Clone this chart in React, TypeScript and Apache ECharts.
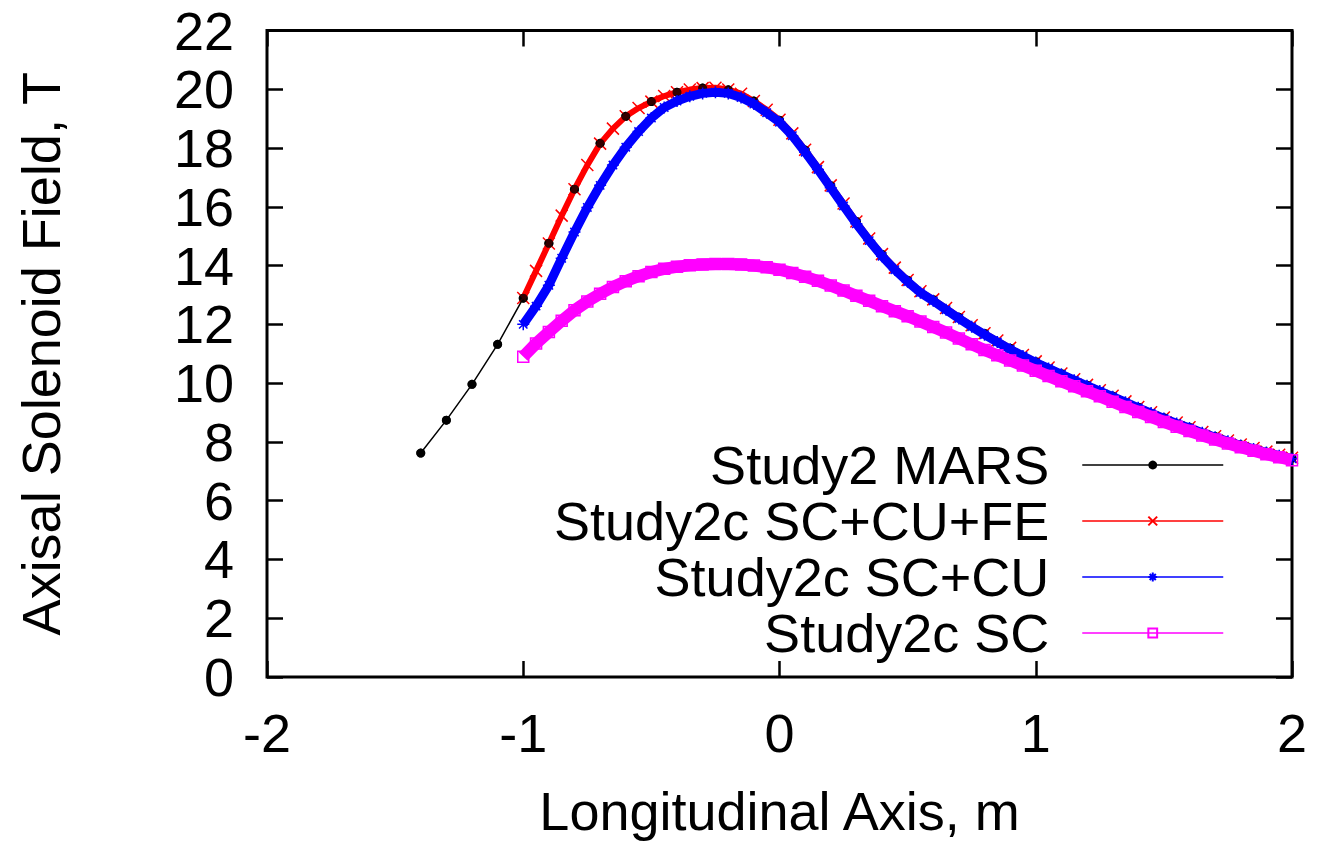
import React, { useEffect, useRef } from "react";
import * as echarts from "echarts";

const FONT = "'Liberation Sans', Arial, Helvetica, sans-serif";

const seriesNames = [
  "Study2 MARS",
  "Study2c SC+CU+FE",
  "Study2c SC+CU",
  "Study2c SC",
];

const marsX = [
  -1.4, -1.3, -1.2, -1.1, -1.0, -0.9, -0.8, -0.7, -0.6, -0.5, -0.4, -0.3, -0.2,
  -0.1, 0.0, 0.1, 0.2, 0.3, 0.4, 0.5, 0.6, 0.7, 0.8, 0.9, 1.0, 1.1, 1.2, 1.3,
  1.4, 1.5, 1.6, 1.7, 1.8, 1.9, 2.0,
];
const marsY = [
  7.62, 8.74, 9.96, 11.32, 12.89, 14.76, 16.6, 18.16, 19.08, 19.58, 19.9, 20.04,
  19.98, 19.6, 18.95, 17.93, 16.72, 15.5, 14.38, 13.5, 12.84, 12.24, 11.69,
  11.19, 10.73, 10.32, 9.93, 9.56, 9.18, 8.82, 8.49, 8.18, 7.9, 7.66, 7.45,
];

const fineX = [
  -1.0, -0.95, -0.9, -0.85, -0.8, -0.75, -0.7, -0.65, -0.6, -0.55, -0.5, -0.45,
  -0.4, -0.35, -0.3, -0.25, -0.2, -0.15, -0.1, -0.05, 0.0, 0.05, 0.1, 0.15, 0.2,
  0.25, 0.3, 0.35, 0.4, 0.45, 0.5, 0.55, 0.6, 0.65, 0.7, 0.75, 0.8, 0.85, 0.9,
  0.95, 1.0, 1.05, 1.1, 1.15, 1.2, 1.25, 1.3, 1.35, 1.4, 1.45, 1.5, 1.55, 1.6,
  1.65, 1.7, 1.75, 1.8, 1.85, 1.9, 1.95, 2.0,
];

const scCuFeY = [
  12.9, 13.82, 14.75, 15.7, 16.6, 17.42, 18.15, 18.66, 19.08, 19.36, 19.58,
  19.77, 19.9, 19.99, 20.04, 20.05, 19.99, 19.85, 19.6, 19.3, 18.96, 18.5,
  17.94, 17.35, 16.73, 16.11, 15.5, 14.92, 14.39, 13.93, 13.51, 13.13, 12.85,
  12.56, 12.25, 11.97, 11.7, 11.45, 11.2, 10.96, 10.74, 10.53, 10.33, 10.13,
  9.94, 9.76, 9.57, 9.38, 9.19, 9.01, 8.83, 8.66, 8.5, 8.34, 8.19, 8.05, 7.91,
  7.79, 7.67, 7.56, 7.46,
];

const scCuY = [
  12.0, 12.62, 13.33, 14.25, 15.14, 15.98, 16.73, 17.42, 18.03, 18.56, 19.02,
  19.38, 19.6, 19.76, 19.86, 19.9, 19.86, 19.72, 19.5, 19.2, 18.88, 18.42,
  17.86, 17.27, 16.65, 16.03, 15.42, 14.85, 14.32, 13.86, 13.45, 13.08, 12.8,
  12.5, 12.2, 11.92, 11.65, 11.4, 11.15, 10.92, 10.7, 10.5, 10.3, 10.1, 9.91,
  9.73, 9.54, 9.35, 9.16, 8.98, 8.8, 8.63, 8.47, 8.31, 8.16, 8.02, 7.88, 7.76,
  7.64, 7.53, 7.43,
];

const scY = [
  10.9, 11.35, 11.74, 12.12, 12.48, 12.78, 13.04, 13.27, 13.47, 13.64, 13.78,
  13.89, 13.96, 14.01, 14.04, 14.05, 14.05, 14.04, 14.0, 13.94, 13.86, 13.75,
  13.62, 13.48, 13.32, 13.15, 12.97, 12.8, 12.62, 12.45, 12.28, 12.1, 11.91,
  11.72, 11.52, 11.32, 11.13, 10.95, 10.77, 10.6, 10.42, 10.24, 10.06, 9.89,
  9.72, 9.55, 9.37, 9.19, 9.02, 8.85, 8.68, 8.52, 8.37, 8.22, 8.08, 7.95, 7.82,
  7.7, 7.58, 7.48, 7.38,
];

const pair = (xs: number[], ys: number[]) => xs.map((x, i) => [x, ys[i]]);

const tickStyle = { color: "#000", width: 2.5 };

export default function App() {
  const ref = useRef<HTMLDivElement>(null);

  useEffect(() => {
    if (!ref.current) return;
    const chart = echarts.init(ref.current, undefined, { renderer: "svg" });
    const labelStyle = { fontSize: 54, color: "#000", fontFamily: FONT };
    const hiddenLine = { show: false, onZero: false };
    const option: any = {
      animation: false,
      backgroundColor: "#fff",
      textStyle: { fontFamily: FONT },
      grid: {
        left: 267,
        right: 25,
        top: 30.5,
        bottom: 169,
        show: true,
        borderColor: "#000",
        borderWidth: 3,
        backgroundColor: "transparent",
      },
      xAxis: [
        {
          type: "value",
          min: -2,
          max: 2,
          interval: 1,
          position: "bottom",
          axisLine: hiddenLine,
          axisTick: { inside: true, length: 16, lineStyle: tickStyle },
          axisLabel: { ...labelStyle, margin: 29, showMinLabel: true, showMaxLabel: true },
          splitLine: { show: false },
          name: "Longitudinal Axis, m",
          nameLocation: "middle",
          nameGap: 107,
          nameTextStyle: labelStyle,
        },
        {
          type: "value",
          min: -2,
          max: 2,
          interval: 1,
          position: "top",
          axisLine: hiddenLine,
          axisTick: { inside: true, length: 16, lineStyle: tickStyle },
          axisLabel: { show: false },
          splitLine: { show: false },
        },
      ],
      yAxis: [
        {
          type: "value",
          min: 0,
          max: 22,
          interval: 2,
          position: "left",
          axisLine: hiddenLine,
          axisTick: { inside: true, length: 16, lineStyle: tickStyle },
          axisLabel: { ...labelStyle, margin: 33, showMinLabel: true, showMaxLabel: true },
          splitLine: { show: false },
          name: "Axisal Solenoid Field, T",
          nameLocation: "middle",
          nameGap: 199,
          nameTextStyle: labelStyle,
        },
        {
          type: "value",
          min: 0,
          max: 22,
          interval: 2,
          position: "right",
          axisLine: hiddenLine,
          axisTick: { inside: true, length: 16, lineStyle: tickStyle },
          axisLabel: { show: false },
          splitLine: { show: false },
        },
      ],
      legend: {
        orient: "vertical",
        right: 93,
        top: 437,
        align: "right",
        padding: 0,
        itemGap: 0,
        itemWidth: 141,
        itemHeight: 11,
        selectedMode: false,
        data: seriesNames,
        textStyle: {
          fontSize: 54,
          lineHeight: 56,
          color: "#000",
          fontFamily: FONT,
          padding: [0, 28, 0, 0],
        },
        lineStyle: { width: 1.5 },
      },
      series: [
        {
          name: seriesNames[0],
          type: "line",
          data: pair(marsX, marsY),
          z: 1,
          silent: true,
          symbol: "circle",
          symbolSize: 9,
          itemStyle: { color: "#000" },
          lineStyle: { color: "#000", width: 1.5 },
        },
        {
          name: seriesNames[1],
          type: "line",
          data: pair(fineX, scCuFeY),
          z: 2,
          silent: true,
          symbol: "path://M0,0L10,10M10,0L0,10",
          symbolSize: 12,
          itemStyle: { color: "#ff0000", borderColor: "#ff0000", borderWidth: 1.5 },
          lineStyle: { color: "#ff0000", width: 6 },
        },
        {
          name: seriesNames[0],
          type: "scatter",
          data: pair(marsX, marsY),
          z: 3,
          silent: true,
          symbol: "circle",
          symbolSize: 9,
          itemStyle: { color: "#000" },
        },
        {
          name: seriesNames[2],
          type: "line",
          data: pair(fineX, scCuY),
          z: 4,
          silent: true,
          symbol: "path://M0,5L10,5M5,0L5,10M1.5,1.5L8.5,8.5M8.5,1.5L1.5,8.5",
          symbolSize: 12,
          itemStyle: { color: "#0000ff", borderColor: "#0000ff", borderWidth: 1.5 },
          lineStyle: { color: "#0000ff", width: 9 },
        },
        {
          name: seriesNames[3],
          type: "line",
          data: pair(fineX, scY),
          z: 5,
          silent: true,
          symbol: "path://M0,0L10,0L10,10L0,10Z",
          symbolSize: 11,
          itemStyle: { color: "rgba(255,0,255,0)", borderColor: "#ff00ff", borderWidth: 1.5 },
          lineStyle: { color: "#ff00ff", width: 12 },
        },
      ],
    };
    chart.setOption(option);
    return () => chart.dispose();
  }, []);

  return (
    <div
      ref={ref}
      style={{ position: "absolute", left: 0, top: 0, width: 1317, height: 846, background: "#fff" }}
    />
  );
}
